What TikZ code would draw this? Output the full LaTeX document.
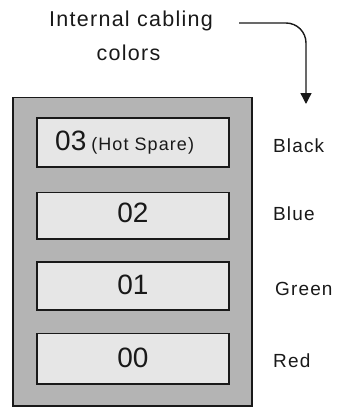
\documentclass[tikz,border=0pt]{standalone}
\usepackage{fontspec}
\setmainfont{Liberation Sans}
\newfontfamily\labelfont[LetterSpace=6]{Liberation Sans}
\usetikzlibrary{arrows.meta}
\definecolor{chassis}{RGB}{180,180,180}
\definecolor{bay}{RGB}{230,230,230}
\definecolor{ink}{RGB}{25,25,25}
\tikzset{
  chassisbox/.style={draw=ink, line width=1.7pt, fill=chassis},
  baybox/.style={draw=ink, line width=1.7pt, fill=bay},
  baynum/.style={anchor=base, inner sep=0pt, text=ink, font=\fontsize{28}{30}\selectfont},
  sidelabel/.style={anchor=base west, inner sep=0pt, text=ink, font=\labelfont\fontsize{19}{22}\selectfont},
  titletext/.style={anchor=base, inner sep=0pt, text=ink, font=\labelfont\fontsize{21.5}{24}\selectfont},
  cablearrow/.style={draw=ink, line width=1.4pt, rounded corners=20pt,
    -{Triangle[width=11pt,length=11pt]}}
}
\begin{document}
\begin{tikzpicture}[x=1pt,y=-1pt]
  \useasboundingbox (0,0) rectangle (342,407);

  % enclosure
  \path[chassisbox] (13,97.5) rectangle (252,406);

  % drive bays
  \path[baybox] (37,118)   rectangle (229,167);
  \path[baybox] (37,192.5) rectangle (229,239);
  \path[baybox] (37,262)   rectangle (229,310);
  \path[baybox] (37,333.5) rectangle (229,384);

  % bay numbers
  \node[baynum, anchor=base west] (b3) at (55,150)
    {03\hspace{5pt}{\labelfont\fontsize{18}{20}\selectfont(Hot Spare)}};
  \node[baynum] (b2) at (133,222) {02};
  \node[baynum] (b1) at (133,294) {01};
  \node[baynum] (b0) at (133,367.5) {00};

  % cable colours
  \node[sidelabel] (black) at (273,152.5) {Black};
  \node[sidelabel] (blue)  at (273,220)   {Blue};
  \node[sidelabel] (green) at (275,295)   {Green};
  \node[sidelabel] (red)   at (273,367)   {Red};

  % title
  \node[titletext] (t1) at (131,26.5) {Internal cabling};
  \node[titletext] (t2) at (128.5,60) {colors};

  % pointer
  \coordinate (cstart) at (239,23);
  \coordinate (cend) at (306,104);
  \draw[cablearrow] (cstart) -| (cend);
\end{tikzpicture}
\end{document}
